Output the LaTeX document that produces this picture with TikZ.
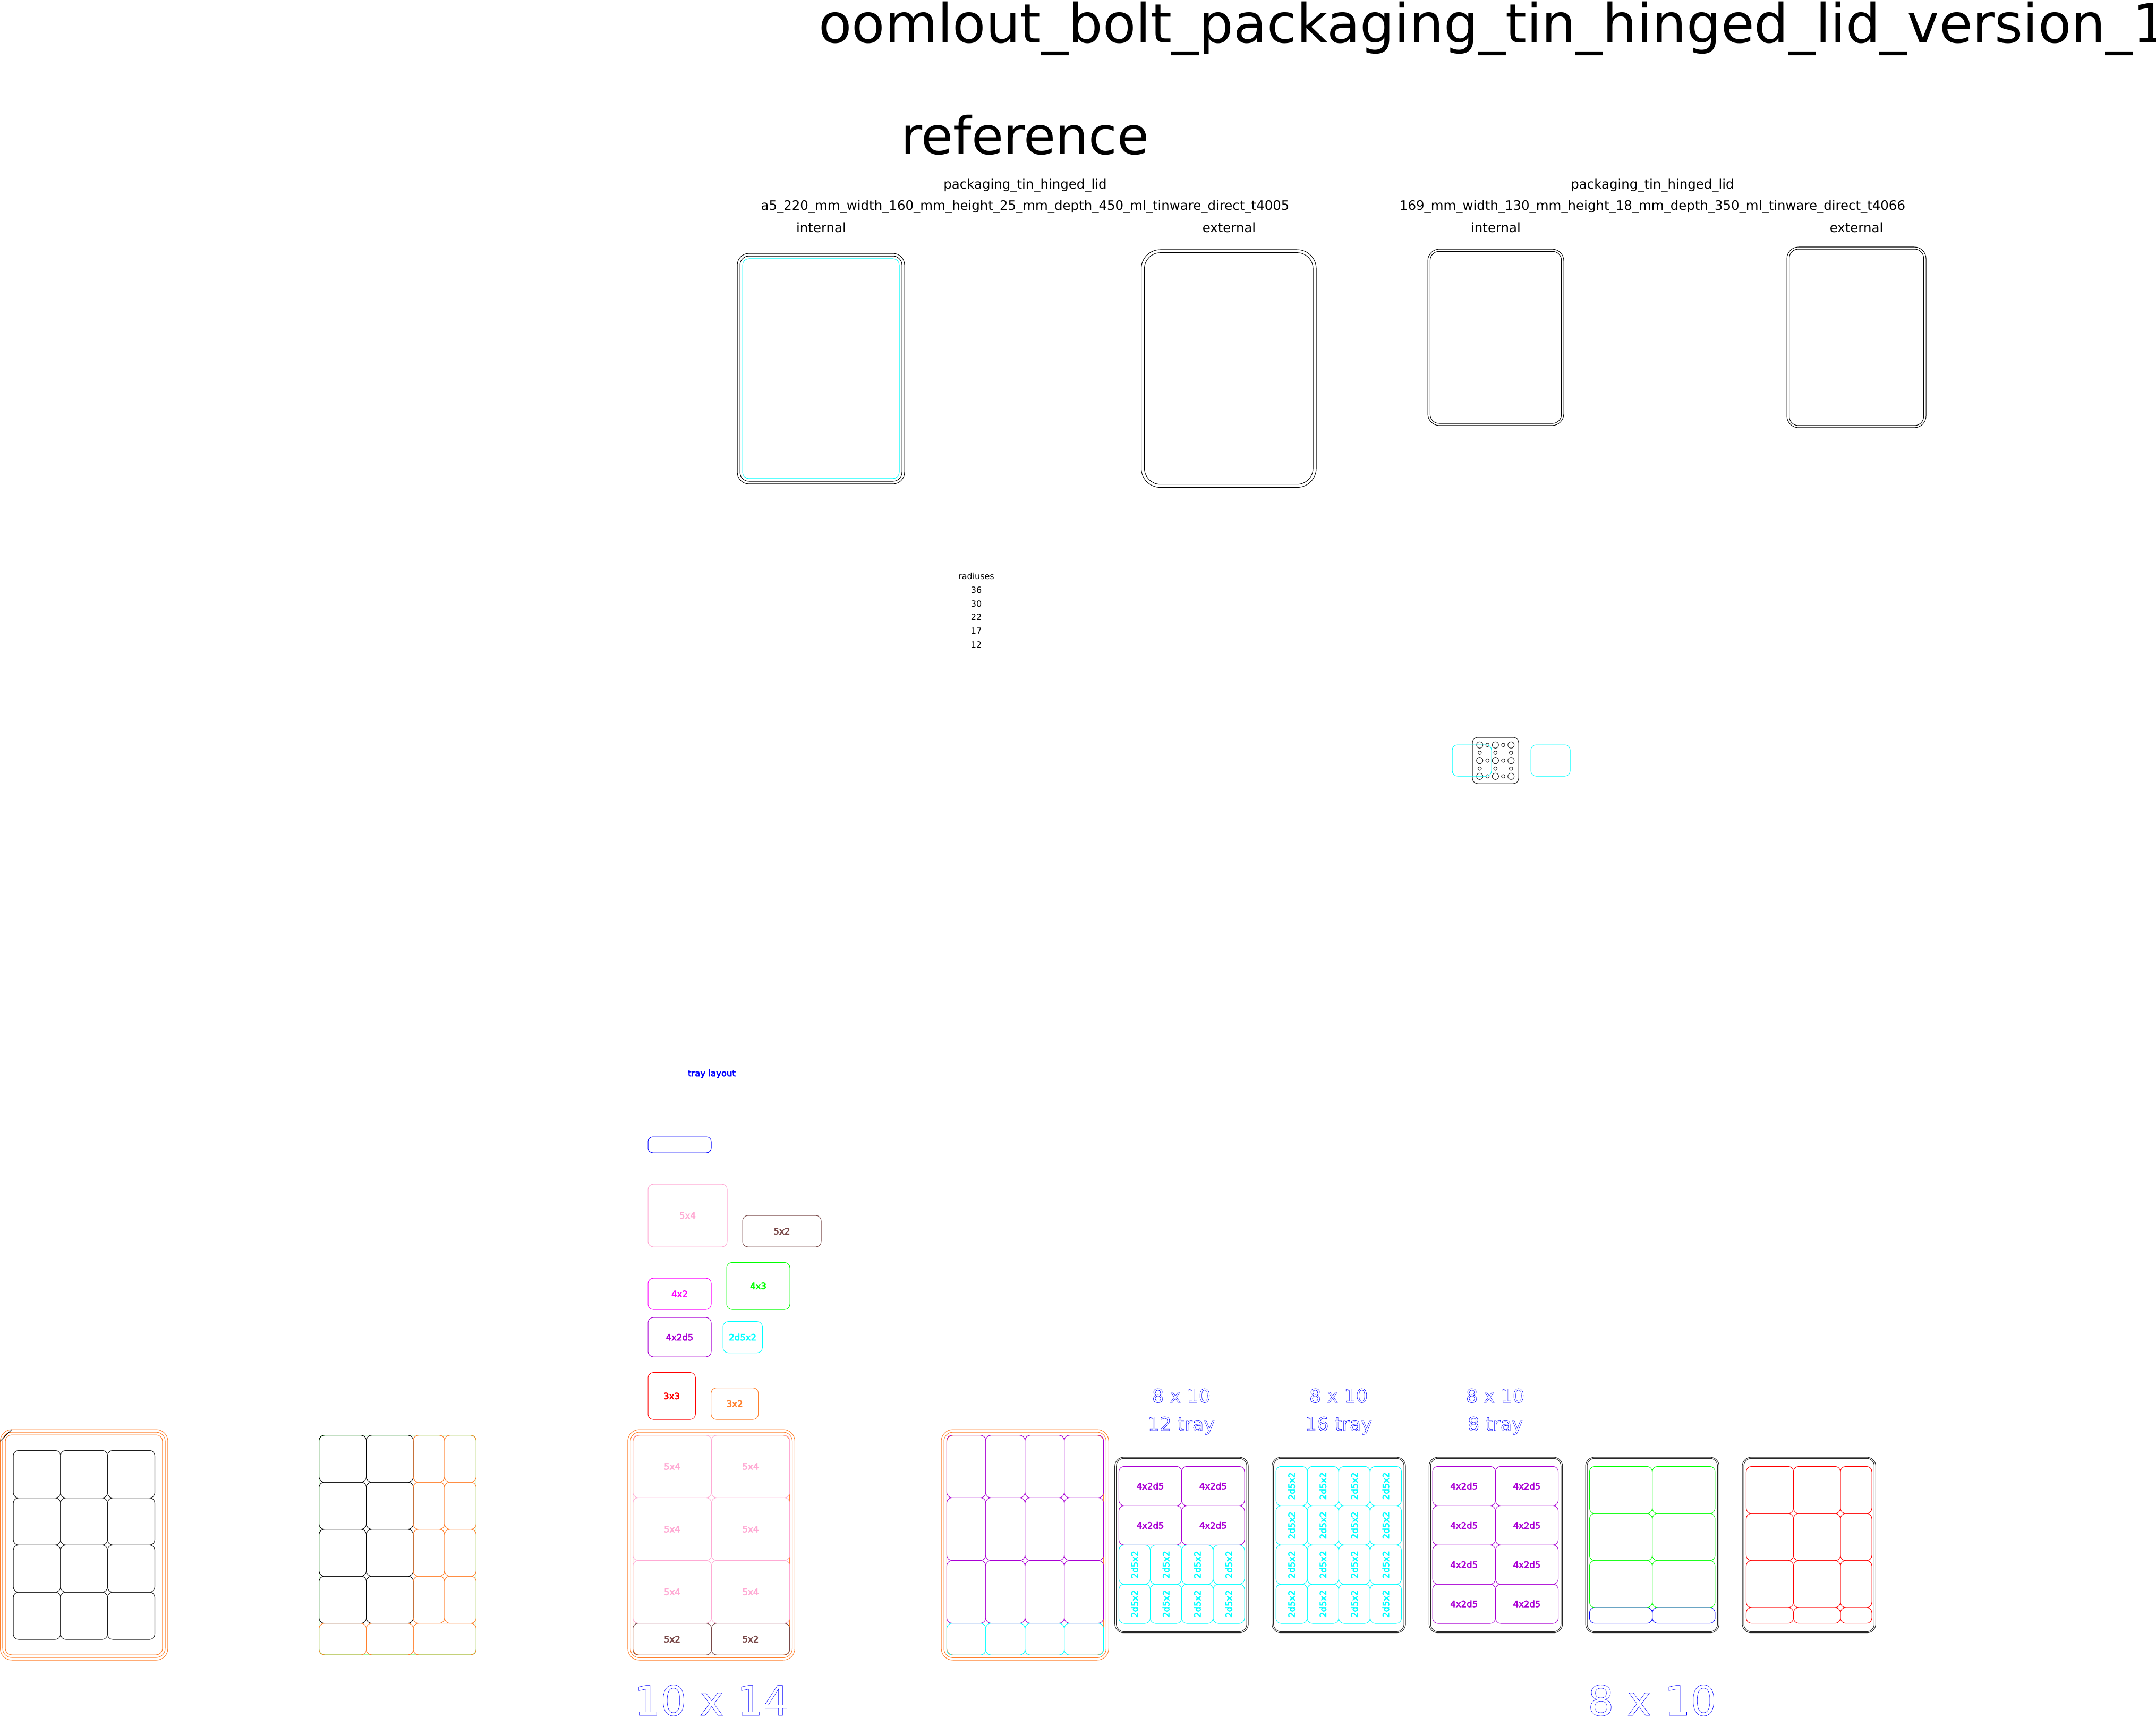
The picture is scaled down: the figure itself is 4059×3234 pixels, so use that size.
\documentclass[tikz,border=0pt]{standalone}
\usepackage{fontspec}
\setmainfont{DejaVu Sans}
\definecolor{cpur}{HTML}{AA00D4}
\definecolor{ccya}{HTML}{00FFFF}
\definecolor{cmag}{HTML}{FF00FF}
\definecolor{cgrn}{HTML}{00FF00}
\definecolor{cred}{HTML}{FF0000}
\definecolor{cora}{HTML}{FF7F2A}
\definecolor{cpnk}{HTML}{FFAAD4}
\definecolor{cbrn}{HTML}{784848}
\definecolor{cblu}{HTML}{0000FF}
% helpers
\newcommand{\rr}[6]{\draw[linestd,#6,rounded corners=#5*0.02cm] (#1,#2) rectangle (#3,#4);}
\newcommand{\outl}{\special{pdf:code 1 Tr 0.33 w}}
\newcommand{\fst}{\special{pdf:code 2 Tr 0.35 w}}
\newcommand{\szpx}[1]{\fontsize{#1}{#1}\selectfont}
\newcommand{\gridc}[4]{% colour, radius, xlist, ylist
  \foreach \a/\b in {#3} \foreach \c/\d in {#4} {\rr{\a}{\c}{\b}{\d}{#2}{#1}}}
\newcommand{\gridl}[6]{% name, colour, xlist, ylist, text, rotation
  \foreach \a/\b [count=\i] in {#3} \foreach \c/\d [count=\j] in {#4}
    {\node[labeltxt,text=#2,rotate=#6,name=#1-\i-\j] at ({(\a+\b)/2},{(\c+\d)/2}) {\fst #5};}}
\tikzset{
  linestd/.style={line width=0.58pt},
  labeltxt/.style={inner sep=0pt,font=\szpx{9.4}},
  bigtxt/.style={inner sep=0pt,anchor=base,font=\szpx{55.6}},
  captxt/.style={inner sep=0pt,anchor=base,font=\szpx{13.9}},
  radtxt/.style={inner sep=0pt,anchor=base,font=\szpx{9.1}},
  oltxt/.style={inner sep=0pt,anchor=base,text=cblu},
}
\begin{document}
\begin{tikzpicture}[x=0.02cm,y=-0.02cm]
\useasboundingbox[fill=white] (0,0) rectangle (4059,3234);
% titles
\node[bigtxt,anchor=base west,font=\szpx{58}] (title) at (1541,80.5) {oomlout\_bolt\_packaging\_tin\_hinged\_lid\_version\_1};
\node[bigtxt] (ref) at (1930,291) {reference};
\node[captxt] (p1) at (1930,356) {packaging\_tin\_hinged\_lid};
\node[captxt] (a1) at (1930,396) {a5\_220\_mm\_width\_160\_mm\_height\_25\_mm\_depth\_450\_ml\_tinware\_direct\_t4005};
\node[captxt] (p2) at (3111,356) {packaging\_tin\_hinged\_lid};
\node[captxt] (a2) at (3111,396) {169\_mm\_width\_130\_mm\_height\_18\_mm\_depth\_350\_ml\_tinware\_direct\_t4066};
\node[captxt] (i1) at (1546,437) {internal};
\node[captxt] (e1) at (2314,437) {external};
\node[captxt] (i2) at (2816,437) {internal};
\node[captxt] (e2) at (3495,437) {external};
% tin outlines
\rr{1388}{477}{1703}{911}{22}{black}
\rr{1393}{482}{1698}{906}{17}{black}
\rr{1398}{487}{1693}{901}{12}{ccya}
\rr{2148.5}{470}{2478}{917.5}{36}{black}
\rr{2154.5}{475.7}{2472}{911.7}{30}{black}
\rr{2688}{469}{2944}{801}{22}{black}
\rr{2692.3}{473.3}{2939.7}{797}{17}{black}
\rr{3364}{465}{3626}{805}{22}{black}
\rr{3368.5}{469}{3621.5}{801}{17}{black}
% radiuses
\node[radtxt] (r0) at (1838,1090) {radiuses};
\node[radtxt] (r1) at (1838,1116) {36};
\node[radtxt] (r2) at (1838,1142) {30};
\node[radtxt] (r3) at (1838,1167) {22};
\node[radtxt] (r4) at (1838,1193) {17};
\node[radtxt] (r5) at (1838,1219) {12};
% hole plate
\rr{2772}{1388}{2859}{1475}{10}{black!85}
\foreach \x in {2785.7,2815.3,2844.7} \foreach \y in {1402.3,1431.7,1461.3} \draw[linestd,black!85] (\x,\y) circle[radius=6*0.02cm];
\foreach \x in {2800.3,2830} \foreach \y in {1402.3,1431.7,1461.3} \draw[linestd,black!85] (\x,\y) circle[radius=3.3*0.02cm];
\foreach \x in {2785.7,2815.3,2844.7} \foreach \y in {1417,1446.7} \draw[linestd,black!85] (\x,\y) circle[radius=3.3*0.02cm];
\rr{2734}{1402}{2808}{1461}{10}{ccya}
\rr{2882}{1402}{2956}{1461}{10}{ccya}
% tray layout key
\node[labeltxt,text=cblu] (tl) at (1340,2021.5) {\fst tray layout};
\rr{1220}{2140}{1339}{2170}{9}{cblu}
\rr{1220}{2229}{1369}{2347}{10}{cpnk}
\node[labeltxt,text=cpnk] (k1) at (1294.5,2288) {\fst 5x4};
\rr{1398}{2288}{1546}{2347}{10}{cbrn}
\node[labeltxt,text=cbrn] (k2) at (1472,2317.5) {\fst 5x2};
\rr{1220}{2406}{1339}{2465}{10}{cmag}
\node[labeltxt,text=cmag] (k3) at (1279.5,2435.5) {\fst 4x2};
\rr{1368}{2376.4}{1487}{2465}{10}{cgrn}
\node[labeltxt,text=cgrn] (k4) at (1427.5,2420.7) {\fst 4x3};
\rr{1220}{2480}{1339}{2554}{10}{cpur}
\node[labeltxt,text=cpur] (k5) at (1279.5,2517) {\fst 4x2d5};
\rr{1361}{2487.6}{1435.3}{2546.5}{10}{ccya}
\node[labeltxt,text=ccya] (k6) at (1398.2,2517) {\fst 2d5x2};
\rr{1220}{2583.6}{1309.3}{2672}{10}{cred}
\node[labeltxt,text=cred] (k7) at (1264.6,2627.8) {\fst 3x3};
\rr{1338.7}{2612.6}{1427.7}{2672}{10}{cora}
\node[labeltxt,text=cora] (k8) at (1383.2,2642.3) {\fst 3x2};
% group A
\rr{0.5}{2691}{316}{3125}{22}{cora}
\rr{5}{2696}{311}{3120}{17}{cora}
\rr{10}{2701}{306}{3115}{12}{cora}
\draw[linestd,black] (0,2713) -- (22,2691);
\gridc{black!90}{10}{25/114,114/202.4,202.4/291.5}{2730.3/2819.7,2819.7/2908.3,2908.3/2997,2997/3086}
% group B
\rr{600.6}{2701.7}{896.4}{3115}{10}{cgrn}
\gridc{black}{10}{600.6/689.7,689.7/778}{2701.7/2790,2790/2878.7,2878.7/2967,2967/3055.7}
\gridc{cora}{10}{778/837,837/896.4}{2701.7/2790,2790/2878.7,2878.7/2967,2967/3055.7}
\gridc{cora}{10}{600.6/689.7,689.7/778,778/896.4}{3055.7/3115}
% group C
\rr{1181.8}{2691}{1496.4}{3125}{22}{cora}
\rr{1186.7}{2696}{1491.5}{3120.4}{17}{cora}
\rr{1191.5}{2701.7}{1486.7}{3115.3}{12}{cora}
\gridc{cpnk}{10}{1191.5/1339.4,1339.4/1486.7}{2701.7/2819.3,2819.3/2937.6,2937.6/3055.6}
\gridc{cbrn}{10}{1191.5/1339.4,1339.4/1486.7}{3055.6/3115.3}
\gridl{c54}{cpnk}{1191.5/1339.4,1339.4/1486.7}{2701.7/2819.3,2819.3/2937.6,2937.6/3055.6}{5x4}{0}
\gridl{c52}{cbrn}{1191.5/1339.4,1339.4/1486.7}{3055.6/3115.3}{5x2}{0}
% group D
\rr{1772}{2691}{2087.3}{3125}{22}{cora}
\rr{1777}{2696}{2082.4}{3120.4}{17}{cora}
\rr{1782.4}{2701.7}{2077.6}{3115.3}{12}{cora}
\gridc{cpur}{10}{1782.4/1855.8,1855.8/1929.7,1929.7/2003.6,2003.6/2077.6}{2701.7/2819.3,2819.3/2937.6,2937.6/3055.6}
\gridc{ccya}{10}{1782.4/1855.8,1855.8/1929.7,1929.7/2003.6,2003.6/2077.6}{3055.6/3115.3}
% trays
\foreach \x in {2098.7,2394.7,2690.3,2985,3280} {
  \rr{\x}{2743}{\x+251.4}{3073.7}{17}{black!85}
  \rr{\x+3}{2745.3}{\x+248.4}{3071.4}{14}{black!85}
}
% tray 1
\gridc{cpur}{10}{2106.4/2224.7,2224.7/2343}{2760.3/2834.3,2834.3/2908.3}
\gridl{t1a}{cpur}{2106.4/2224.7,2224.7/2343}{2760.3/2834.3,2834.3/2908.3}{4x2d5}{0}
\gridc{ccya}{10}{2106.4/2165.6,2165.6/2224.7,2224.7/2283.8,2283.8/2343}{2908.3/2982,2982/3056}
\gridl{t1b}{ccya}{2106.4/2165.6,2165.6/2224.7,2224.7/2283.8,2283.8/2343}{2908.3/2982,2982/3056}{2d5x2}{90}
% tray 2
\gridc{ccya}{10}{2402/2461,2461/2520.3,2520.3/2579.4,2579.4/2638.5}{2760.3/2834.3,2834.3/2908.3,2908.3/2982,2982/3056}
\gridl{t2}{ccya}{2402/2461,2461/2520.3,2520.3/2579.4,2579.4/2638.5}{2760.3/2834.3,2834.3/2908.3,2908.3/2982,2982/3056}{2d5x2}{90}
% tray 3
\gridc{cpur}{10}{2697/2815.4,2815.4/2933.6}{2760.3/2834.3,2834.3/2908.3,2908.3/2982,2982/3056}
\gridl{t3}{cpur}{2697/2815.4,2815.4/2933.6}{2760.3/2834.3,2834.3/2908.3,2908.3/2982,2982/3056}{4x2d5}{0}
% tray 4
\gridc{cgrn}{10}{2992.4/3110.6,3110.6/3228.9}{2760.4/2849,2849/2937.8,2937.8/3026}
\gridc{cblu}{10}{2992.4/3110.6,3110.6/3228.9}{3026/3055.7}
% tray 5
\gridc{cred}{10}{3287.4/3376.4,3376.4/3464.8,3464.8/3524}{2760.4/2849,2849/2937.8,2937.8/3026,3026/3055.7}
% outlined captions
\node[oltxt,font=\szpx{20}] (h1) at (2224,2640) {\outl 8 x 10};
\node[oltxt,font=\szpx{20}] (n1) at (2224,2693) {\outl 12 tray};
\node[oltxt,font=\szpx{20}] (h2) at (2520,2640) {\outl 8 x 10};
\node[oltxt,font=\szpx{20}] (n2) at (2520,2693) {\outl 16 tray};
\node[oltxt,font=\szpx{20}] (h3) at (2815,2640) {\outl 8 x 10};
\node[oltxt,font=\szpx{20}] (n3) at (2815,2693) {\outl 8 tray};
\node[oltxt,font=\szpx{44}] (b1) at (1340,3229) {\outl 10 x 14};
\node[oltxt,font=\szpx{44}] (b2) at (3110.6,3229) {\outl 8 x 10};
\end{tikzpicture}
\end{document}
